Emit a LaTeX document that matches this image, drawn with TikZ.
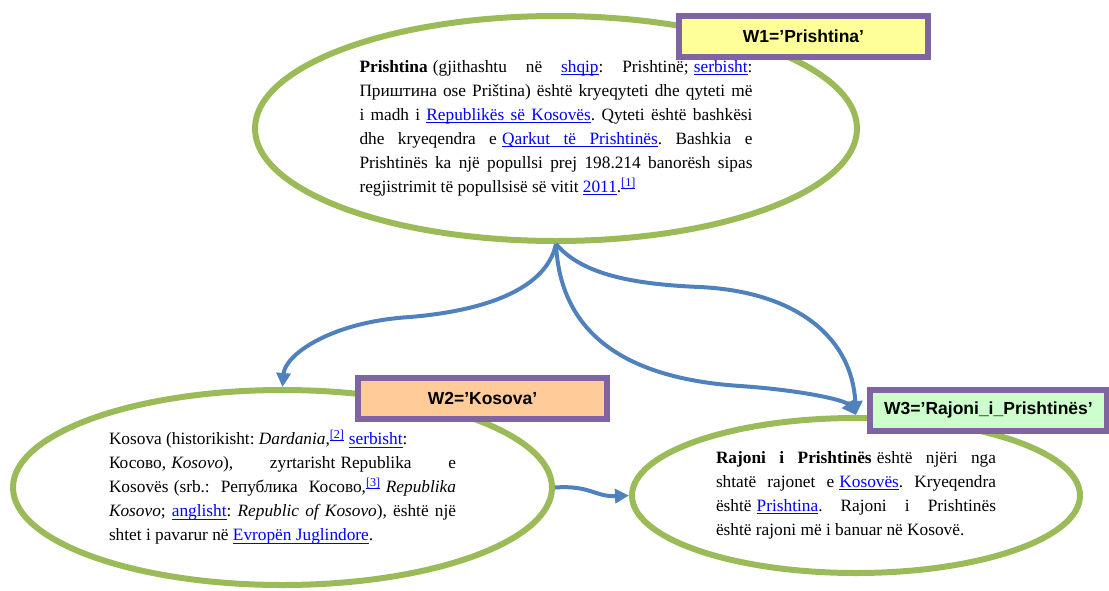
\documentclass[tikz,border=0pt]{standalone}
\usepackage{fontspec}
\setmainfont{Liberation Serif}
\setsansfont{Liberation Sans}
\usetikzlibrary{shapes.geometric,arrows.meta}

\definecolor{ringgreen}{HTML}{9BBB59}
\definecolor{arrowblue}{HTML}{4F81BD}
\definecolor{boxpurple}{HTML}{8064A2}
\definecolor{linkblue}{HTML}{0000FF}
\definecolor{fillone}{HTML}{FFFF99}
\definecolor{filltwo}{HTML}{FFCC99}
\definecolor{fillthree}{HTML}{CCFFCC}

\frenchspacing
\newcommand\ulw[1]{\setbox0\hbox{#1}\rlap{\rule[-2.6pt]{\wd0}{0.9pt}}\box0}
\newcommand\ulsp{\leaders\hrule height -1.7pt depth 2.6pt\hskip\fontdimen2\font plus\fontdimen3\font minus\fontdimen4\font}
\newcommand\lnk[1]{\textcolor{linkblue}{\ulw{#1}}}
\newcommand\lsp{\textcolor{linkblue}{\ulsp}}
\newcommand\refn[1]{\textsuperscript{\lnk{[#1]}}}
\newcommand\jl[2]{\makebox[#1pt][s]{#2}}
\newcommand\fs{\hspace{0.3em}}

\tikzset{
  topic/.style={ellipse, draw=ringgreen, line width=6pt, inner sep=0pt,
    align=left, font=\fontsize{17.3}{24}\selectfont},
  wbox/.style={rectangle, draw=boxpurple, line width=6pt, inner sep=0pt,
    minimum width=249pt, minimum height=41pt,
    font=\sffamily\bfseries\fontsize{17.5}{20}\selectfont},
  conn/.style={draw=arrowblue, line width=4pt, -{Triangle[length=14pt,width=14pt]}}
}

\begin{document}
\begin{tikzpicture}[x=1pt,y=-1pt]
    \useasboundingbox (0,0) rectangle (1109,590);
    % ellipses
    \node [topic, minimum width=602pt, minimum height=225pt] (w1) at (556,128.5) {%
        \jl{393}{\textbf{Prishtina}\fs(gjithashtu në \lnk{shqip}: Prishtinë;\fs\lnk{serbisht}:}\\
        \jl{393}{Приштина ose Priština) është kryeqyteti dhe qyteti më}\\
        \jl{393}{i madh i \lnk{Republikës}\lsp\lnk{së}\lsp\lnk{Kosovës}. Qyteti është bashkësi}\\
        \jl{393}{dhe kryeqendra e\fs\lnk{Qarkut}\lsp\lnk{të}\lsp\lnk{Prishtinës}. Bashkia e}\\
        \jl{393}{Prishtinës ka një popullsi prej 198.214 banorësh sipas}\\
        regjistrimit të popullsisë së vitit \lnk{2011}.\refn{1}};
    \node [topic, minimum width=539pt, minimum height=195pt] (w2) at (282.5,487.5) {%
        Kosova (historikisht: \textit{Dardania},\refn{2} \lnk{serbisht}:\\
        \jl{347}{Косово,\fs\textit{Kosovo}), zyrtarisht\fs Republika e}\\
        \jl{347}{Kosovës\fs(srb.: Република Косово,\refn{3}\fs\textit{Republika}}\\
        \jl{347}{\textit{Kosovo}; \lnk{anglisht}: \textit{Republic of Kosovo}), është një}\\
        shtet i pavarur në \lnk{Evropën}\lsp\lnk{Juglindore}.};
    \node [topic, minimum width=448pt, minimum height=155pt] (w3) at (856,495.5) {%
        \jl{280}{\textbf{Rajoni i Prishtinës}\fs është njëri nga}\\
        \jl{280}{shtatë rajonet e\fs\lnk{Kosovës}. Kryeqendra}\\
        \jl{280}{është\fs\lnk{Prishtina}. Rajoni i Prishtinës}\\
        është rajoni më i banuar në Kosovë.};
    % arrows
    \draw [conn] (w1.south) .. controls (545,295) and (470,312) .. (410,317)
        .. controls (330,322) and (285,355) .. (w2.north);
    \draw [conn] (w1.south) .. controls (560,330) and (620,378) .. (740,386)
        .. controls (800,390) and (845,400) .. (w3.north);
    \draw [conn] (w1.south) .. controls (580,272) and (625,284) .. (700,287)
        .. controls (800,292) and (852,340) .. (w3.north);
    \draw [conn] (w2.east) .. controls (590,485) and (595,497) .. (w3.west);
    % labels
    \node [wbox, fill=fillone] (l1) at (803.5,36) {W1=’Prishtina’};
    \node [wbox, fill=filltwo] (l2) at (482.5,398.5) {W2=’Kosova’};
    \node [wbox, fill=fillthree, minimum width=237pt] (l3) at (988.5,410) {W3=’Rajoni\_i\_Prishtinës’};
\end{tikzpicture}
\end{document}
